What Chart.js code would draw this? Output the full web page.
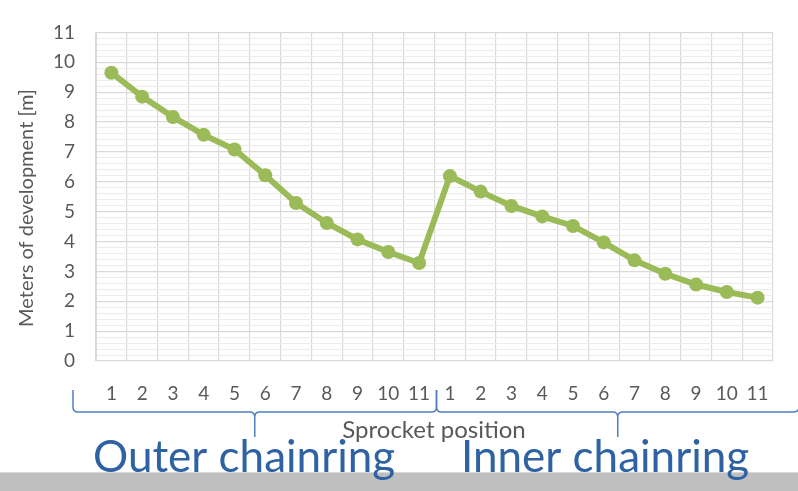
<!DOCTYPE html>
<html>
<head>
<meta charset="utf-8">
<script src="https://cdn.jsdelivr.net/npm/chart.js@4/dist/chart.umd.min.js"></script>
<style>
  html, body { margin: 0; padding: 0; background: #fff; }
  #wrap { width: 798px; height: 491px; position: relative; }
</style>
</head>
<body>
<div id="wrap"><canvas id="chart"></canvas></div>
<script>
const sprockets = ["1","2","3","4","5","6","7","8","9","10","11","1","2","3","4","5","6","7","8","9","10","11"];
const outerDevelopment = [9.65, 8.85, 8.17, 7.57, 7.08, 6.22, 5.29, 4.62, 4.07, 3.65, 3.28];
const innerDevelopment = [6.19, 5.67, 5.19, 4.84, 4.52, 3.97, 3.37, 2.92, 2.56, 2.31, 2.12];
const groupNames = ["Outer chainring", "Inner chainring"];
const yTitle = "Meters of development [m]";
const xTitle = "Sprocket position";

const green = "#9bbb59";
const blue = "#2e62a3";
const braceBlue = "#4f7fc0";
const grey = "#595959";

function isWhole(v) { return Math.abs(v - Math.round(v)) < 1e-6; }

function brace(ctx, x1, x2, yTop, yLine, yTip) {
  const mid = (x1 + x2) / 2, r = 5;
  ctx.beginPath();
  ctx.moveTo(x1, yTop);
  ctx.lineTo(x1, yLine - r);
  ctx.quadraticCurveTo(x1, yLine, x1 + r, yLine);
  ctx.lineTo(mid - r, yLine);
  ctx.quadraticCurveTo(mid, yLine, mid, yLine + r);
  ctx.lineTo(mid, yTip);
  ctx.moveTo(mid, yLine + r);
  ctx.quadraticCurveTo(mid, yLine, mid + r, yLine);
  ctx.lineTo(x2 - r, yLine);
  ctx.quadraticCurveTo(x2, yLine, x2, yLine - r);
  ctx.lineTo(x2, yTop);
  ctx.stroke();
}

const annotations = {
  id: "annotations",
  afterDraw(chart) {
    const { ctx, chartArea, scales } = chart;
    const x = scales.x;
    const split = (x.getPixelForValue(10) + x.getPixelForValue(11)) / 2 + 2;
    const left = chartArea.left - 23, right = chartArea.right + 26;
    ctx.save();
    // y axis title
    ctx.fillStyle = grey;
    ctx.font = "20px Lato";
    ctx.translate(27, 208);
    ctx.rotate(-Math.PI / 2);
    ctx.textAlign = "center";
    ctx.textBaseline = "middle";
    ctx.fillText(yTitle, 0, 0);
    ctx.restore();

    ctx.save();
    ctx.strokeStyle = braceBlue;
    ctx.lineWidth = 1.5;
    brace(ctx, left, split, 390, 412, 437);
    brace(ctx, split, right, 390, 412, 437);
    // bottom bar
    ctx.fillStyle = "#bfbfbf";
    ctx.fillRect(0, 473, chart.width, chart.height - 473);
    ctx.fillStyle = "#d9d9d9";
    ctx.fillRect(0, 472, chart.width, 1);
    // x title
    ctx.fillStyle = grey;
    ctx.font = "24px Lato";
    ctx.textAlign = "center";
    ctx.textBaseline = "middle";
    ctx.fillText(xTitle, 434, 430);
    // group labels
    ctx.fillStyle = blue;
    ctx.font = "44px Lato";
    ctx.textBaseline = "alphabetic";
    ctx.textAlign = "left";
    ctx.fillText(groupNames[0], 93, 472);
    ctx.fillText(groupNames[1], 461, 472);
    ctx.restore();
  }
};

new Chart(document.getElementById("chart"), {
  type: "line",
  data: {
    labels: sprockets,
    datasets: [{
      data: outerDevelopment.concat(innerDevelopment),
      borderColor: green,
      backgroundColor: green,
      borderWidth: 6,
      pointRadius: 7,
      pointHoverRadius: 7,
      pointBorderWidth: 0,
      tension: 0
    }]
  },
  options: {
    responsive: true,
    maintainAspectRatio: false,
    animation: false,
    events: [],
    layout: { padding: { top: 18, right: 25, left: 0, bottom: 0 } },
    plugins: { legend: { display: false }, tooltip: { enabled: false } },
    scales: {
      x: {
        offset: true,
        grid: { offset: true, color: "#d9d9d9", lineWidth: 1.2, drawTicks: false },
        border: { display: false },
        ticks: { color: grey, font: { family: "Lato", size: 19 }, padding: 21, autoSkip: false, maxRotation: 0 },
        afterFit(axis) { axis.height = 491 - 361; }
      },
      y: {
        min: 0,
        max: 11,
        grid: {
          drawTicks: false,
          color: c => isWhole(c.tick.value) ? "#d9d9d9" : "#ececec",
          lineWidth: c => isWhole(c.tick.value) ? 1.2 : 1
        },
        border: { display: true, color: "#d9d9d9" },
        ticks: {
          stepSize: 0.2,
          autoSkip: false,
          color: grey,
          font: { family: "Lato", size: 19 },
          padding: 21,
          callback: v => isWhole(v) ? String(Math.round(v)) : ""
        },
        afterFit(axis) { axis.width = 96; }
      }
    }
  },
  plugins: [annotations]
});
</script>
</body>
</html>
